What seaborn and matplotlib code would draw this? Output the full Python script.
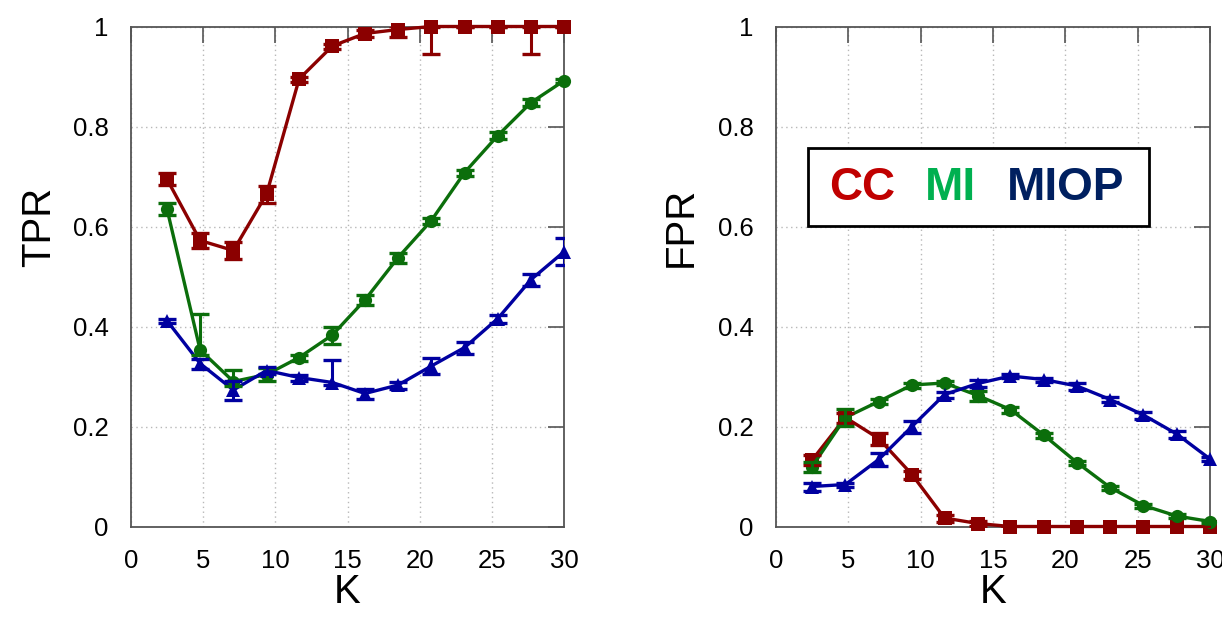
import numpy as np
import pandas as pd
import matplotlib
matplotlib.use("Agg")
import matplotlib.pyplot as plt
import seaborn as sns
from matplotlib.patches import Rectangle

# ---------------- data ----------------
K = [2.5, 4.8, 7.1, 9.4, 11.65, 13.95, 16.2, 18.5, 20.8, 23.1, 25.4, 27.7, 30.0]
methods = ["CC", "MI", "MIOP"]

cc_tpr = [0.695, 0.572, 0.552, 0.665, 0.895, 0.961, 0.986, 0.994, 1.0, 1.0, 1.0, 1.0, 1.0]
cc_tpr_lo = [0.012, 0.015, 0.016, 0.017, 0.005, 0.005, 0.007, 0.015, 0.054, 0.0, 0.0, 0.054, 0.0]
cc_tpr_hi = [0.012, 0.015, 0.016, 0.017, 0.005, 0.005, 0.007, 0.008, 0.0, 0.0, 0.0, 0.0, 0.0]

mi_tpr = [0.636, 0.353, 0.290, 0.304, 0.338, 0.383, 0.453, 0.538, 0.612, 0.708, 0.782, 0.848, 0.892]
mi_tpr_lo = [0.012, 0.010, 0.008, 0.013, 0.006, 0.017, 0.010, 0.010, 0.006, 0.006, 0.007, 0.007, 0.004]
mi_tpr_hi = [0.012, 0.073, 0.024, 0.013, 0.006, 0.017, 0.010, 0.010, 0.006, 0.006, 0.007, 0.007, 0.004]

miop_tpr = [0.412, 0.326, 0.273, 0.312, 0.298, 0.288, 0.266, 0.283, 0.321, 0.358, 0.416, 0.494, 0.550]
miop_tpr_lo = [0.004, 0.010, 0.019, 0.007, 0.006, 0.004, 0.010, 0.007, 0.016, 0.012, 0.008, 0.012, 0.027]
miop_tpr_hi = [0.004, 0.010, 0.019, 0.007, 0.006, 0.046, 0.010, 0.007, 0.016, 0.012, 0.008, 0.012, 0.027]

cc_fpr = [0.133, 0.218, 0.176, 0.104, 0.017, 0.006, 0.0, 0.0, 0.0, 0.0, 0.0, 0.0, 0.0]
cc_fpr_err = [0.010, 0.010, 0.012, 0.008, 0.007, 0.005, 0.0, 0.0, 0.0, 0.0, 0.0, 0.0, 0.0]

mi_fpr = [0.120, 0.218, 0.250, 0.283, 0.287, 0.262, 0.234, 0.183, 0.128, 0.078, 0.042, 0.021, 0.010]
mi_fpr_err = [0.010, 0.017, 0.005, 0.005, 0.004, 0.010, 0.006, 0.005, 0.004, 0.004, 0.004, 0.004, 0.003]

miop_fpr = [0.080, 0.084, 0.134, 0.200, 0.264, 0.286, 0.301, 0.294, 0.281, 0.254, 0.223, 0.185, 0.135]
miop_fpr_err = [0.008, 0.004, 0.013, 0.012, 0.006, 0.007, 0.004, 0.004, 0.007, 0.005, 0.007, 0.007, 0.004]

xticks = [0, 5, 10, 15, 20, 25, 30]
yticks = [0, 0.2, 0.4, 0.6, 0.8, 1.0]
ytick_labels = ["0", "0.2", "0.4", "0.6", "0.8", "1"]

# ---------------- style ----------------
sns.set_style("white")
plt.rcParams["font.family"] = ["Liberation Sans", "DejaVu Sans"]
plt.rcParams["text.color"] = "black"
plt.rcParams["axes.labelcolor"] = "black"
plt.rcParams["xtick.color"] = "black"
plt.rcParams["ytick.color"] = "black"

line_colors = {"CC": "#8B0000", "MI": "#0B6E0B", "MIOP": "#0000A0"}
markers = {"CC": "s", "MI": "o", "MIOP": "^"}
legend_colors = {"CC": "#C00000", "MI": "#00B050", "MIOP": "#002060"}
spine_col = "#555555"


def long_df(vals):
    rows = []
    for m, v in zip(methods, vals):
        for k, y in zip(K, v):
            rows.append({"K": k, "value": y, "method": m})
    return pd.DataFrame(rows)


fig = plt.figure(figsize=(12.22, 6.25), dpi=100)
ax1 = fig.add_axes([0.107, 0.1576, 0.3548, 0.8], zorder=1)
ax2 = fig.add_axes([0.635, 0.1576, 0.3552, 0.8], zorder=1)

panels = [
    (ax1, "TPR", [cc_tpr, mi_tpr, miop_tpr],
     [(cc_tpr_lo, cc_tpr_hi), (mi_tpr_lo, mi_tpr_hi), (miop_tpr_lo, miop_tpr_hi)]),
    (ax2, "FPR", [cc_fpr, mi_fpr, miop_fpr],
     [(cc_fpr_err, cc_fpr_err), (mi_fpr_err, mi_fpr_err), (miop_fpr_err, miop_fpr_err)]),
]

for ax, ylab, vals, errs in panels:
    df = long_df(vals)
    sns.lineplot(data=df, x="K", y="value", hue="method", style="method",
                 markers=markers, dashes=False, palette=line_colors,
                 linewidth=2.4, markersize=9.5, markeredgewidth=0,
                 legend=False, ax=ax, zorder=3)
    for line in ax.lines:
        line.set_clip_on(False)
    for m, v, (lo, hi) in zip(methods, vals, errs):
        ax.errorbar(K, v, yerr=[lo, hi], fmt="none", ecolor=line_colors[m],
                    elinewidth=2.2, capsize=6.5, capthick=2.4, zorder=3,
                    clip_on=True)

    ax.set_xlim(0, 30)
    ax.set_ylim(0, 1)
    ax.set_xticks(xticks)
    ax.set_yticks(yticks)
    ax.set_yticklabels(ytick_labels)
    ax.grid(True, linestyle=(0, (1, 2.5)), color="#b8b8b8", linewidth=1.0, zorder=0)
    ax.set_axisbelow(True)
    ax.tick_params(direction="in", length=11.5, width=1.2, color=spine_col,
                   labelcolor="black", top=True, right=True, labelsize=18.5, pad=16)
    for s in ax.spines.values():
        s.set_color(spine_col)
        s.set_linewidth(1.3)
    ax.set_xlabel("K", fontsize=29, color="black")
    ax.set_ylabel(ylab, fontsize=29, color="black")
    ax.xaxis.set_label_coords(0.5, -0.093)

ax1.yaxis.set_label_coords(-0.168, 0.6)
ax2.yaxis.set_label_coords(-0.176, 0.6)

# legend box
ax2.add_patch(Rectangle((0.074, 0.601), 0.785, 0.156, transform=ax2.transAxes,
                        facecolor="white", edgecolor="black", linewidth=2.0,
                        zorder=5))
for m, xc in zip(methods, [0.198, 0.401, 0.667]):
    ax2.text(xc, 0.676, m, transform=ax2.transAxes, ha="center", va="center",
             fontsize=33, fontweight="bold", color=legend_colors[m], zorder=6)

fig.savefig("out.png", dpi=100, facecolor="white")
